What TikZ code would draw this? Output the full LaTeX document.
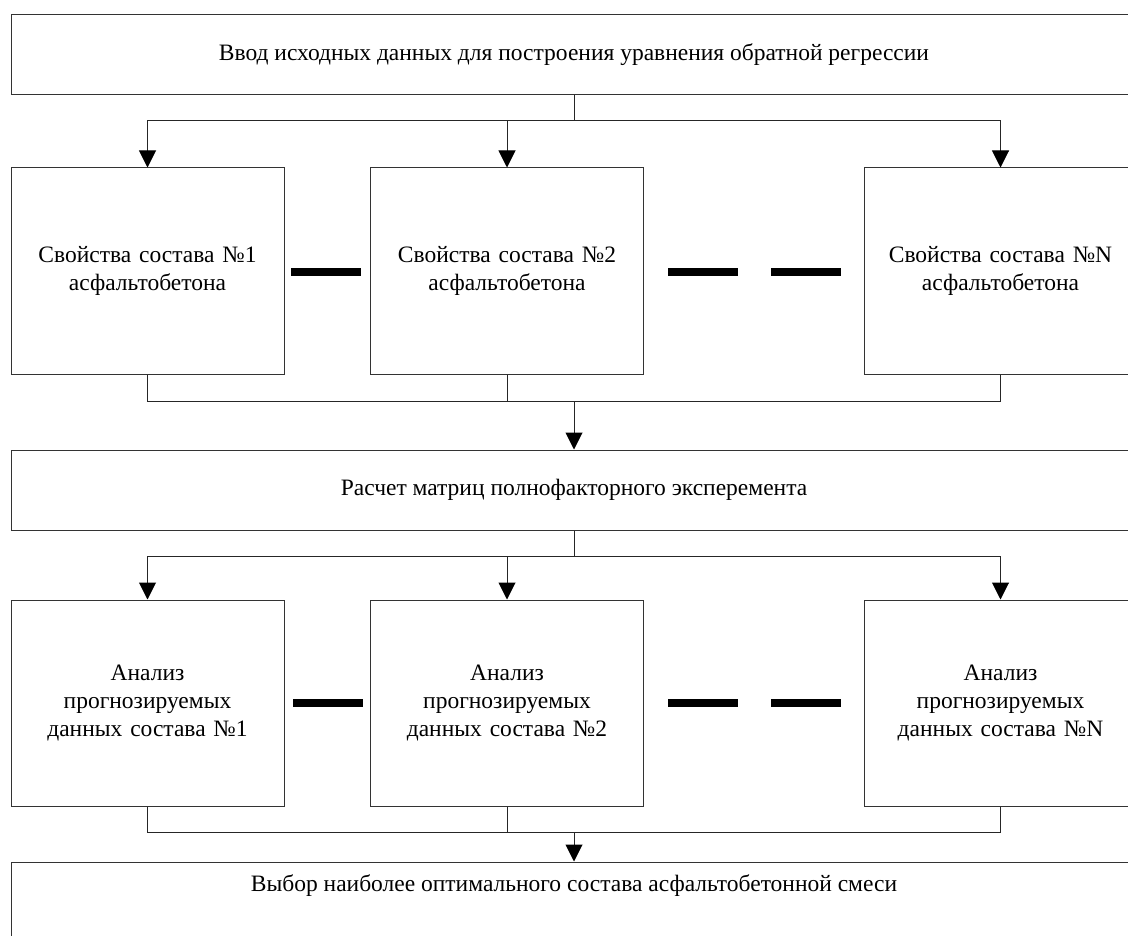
\documentclass[tikz,border=0pt]{standalone}
\usepackage{fontspec}
\setmainfont{Liberation Serif}
\usetikzlibrary{arrows.meta}
\begin{document}
\begin{tikzpicture}[x=1pt,y=-1pt,
  every node/.style={font=\fontsize{23.5}{28}\selectfont},
  wide/.style={draw=black!80, line width=1pt, rectangle, inner sep=0pt, minimum width=1126pt, minimum height=80pt},
  item/.style={draw=black!80, line width=1pt, rectangle, inner sep=0pt, minimum width=273pt, minimum height=206pt, align=center, text width=262pt},
  conn/.style={draw=black!85, line width=1pt},
  arr/.style={conn, -{Triangle[width=17pt,length=17pt,fill=black,color=black]}},
  bar/.style={line width=7.5pt, black}
]
\useasboundingbox (0,0) rectangle (1128,936);
\clip (0,0) rectangle (1128,936);

% top box
\node[wide] (top) at (574,55) {Ввод исходных данных для построения уравнения обратной регрессии};

% row 1
\node[item] (a1) at (147.5,271) {Свойства состава №1\\асфальтобетона};
\node[item] (a2) at (507,271) {Свойства состава №2\\асфальтобетона};
\node[item] (a3) at (1000.5,271) {Свойства состава №N\\асфальтобетона};

% middle box
\node[wide] (mid) at (574,490) {Расчет матриц полнофакторного эксперемента};

% row 2
\node[item] (b1) at (147.5,703) {Анализ\\прогнозируемых\\данных состава №1};
\node[item] (b2) at (507,703) {Анализ\\прогнозируемых\\данных состава №2};
\node[item] (b3) at (1000.5,703) {Анализ\\прогнозируемых\\данных состава №N};

% bottom box
\node[wide] (bot) at (574,902) {};
\node (botlabel) at (574,886) {Выбор наиболее оптимального состава асфальтобетонной смеси};

% junctions
\coordinate (j0) at (574,121);
\coordinate (j1) at (574,401);
\coordinate (j2) at (574,556);
\coordinate (j3) at (574,832);

% connectors top -> row 1
\draw[conn] (top.south) -- (j0);
\draw[arr] (j0) -| (a1.north);
\draw[arr] (j0) -| (a2.north);
\draw[arr] (j0) -| (a3.north);

% row 1 -> middle
\draw[conn] (a1.south) |- (j1);
\draw[conn] (a2.south) |- (j1);
\draw[conn] (a3.south) |- (j1);
\draw[arr] (j1) -- (mid.north);

% middle -> row 2
\draw[conn] (mid.south) -- (j2);
\draw[arr] (j2) -| (b1.north);
\draw[arr] (j2) -| (b2.north);
\draw[arr] (j2) -| (b3.north);

% row 2 -> bottom
\draw[conn] (b1.south) |- (j3);
\draw[conn] (b2.south) |- (j3);
\draw[conn] (b3.south) |- (j3);
\draw[arr] (j3) -- (bot.north);

% thick bars
\draw[bar] (291,272) -- (361,272);
\draw[bar] (668,272) -- (738,272);
\draw[bar] (771,272) -- (841,272);
\draw[bar] (293,703) -- (363,703);
\draw[bar] (668,703) -- (738,703);
\draw[bar] (771,703) -- (841,703);
\end{tikzpicture}
\end{document}
